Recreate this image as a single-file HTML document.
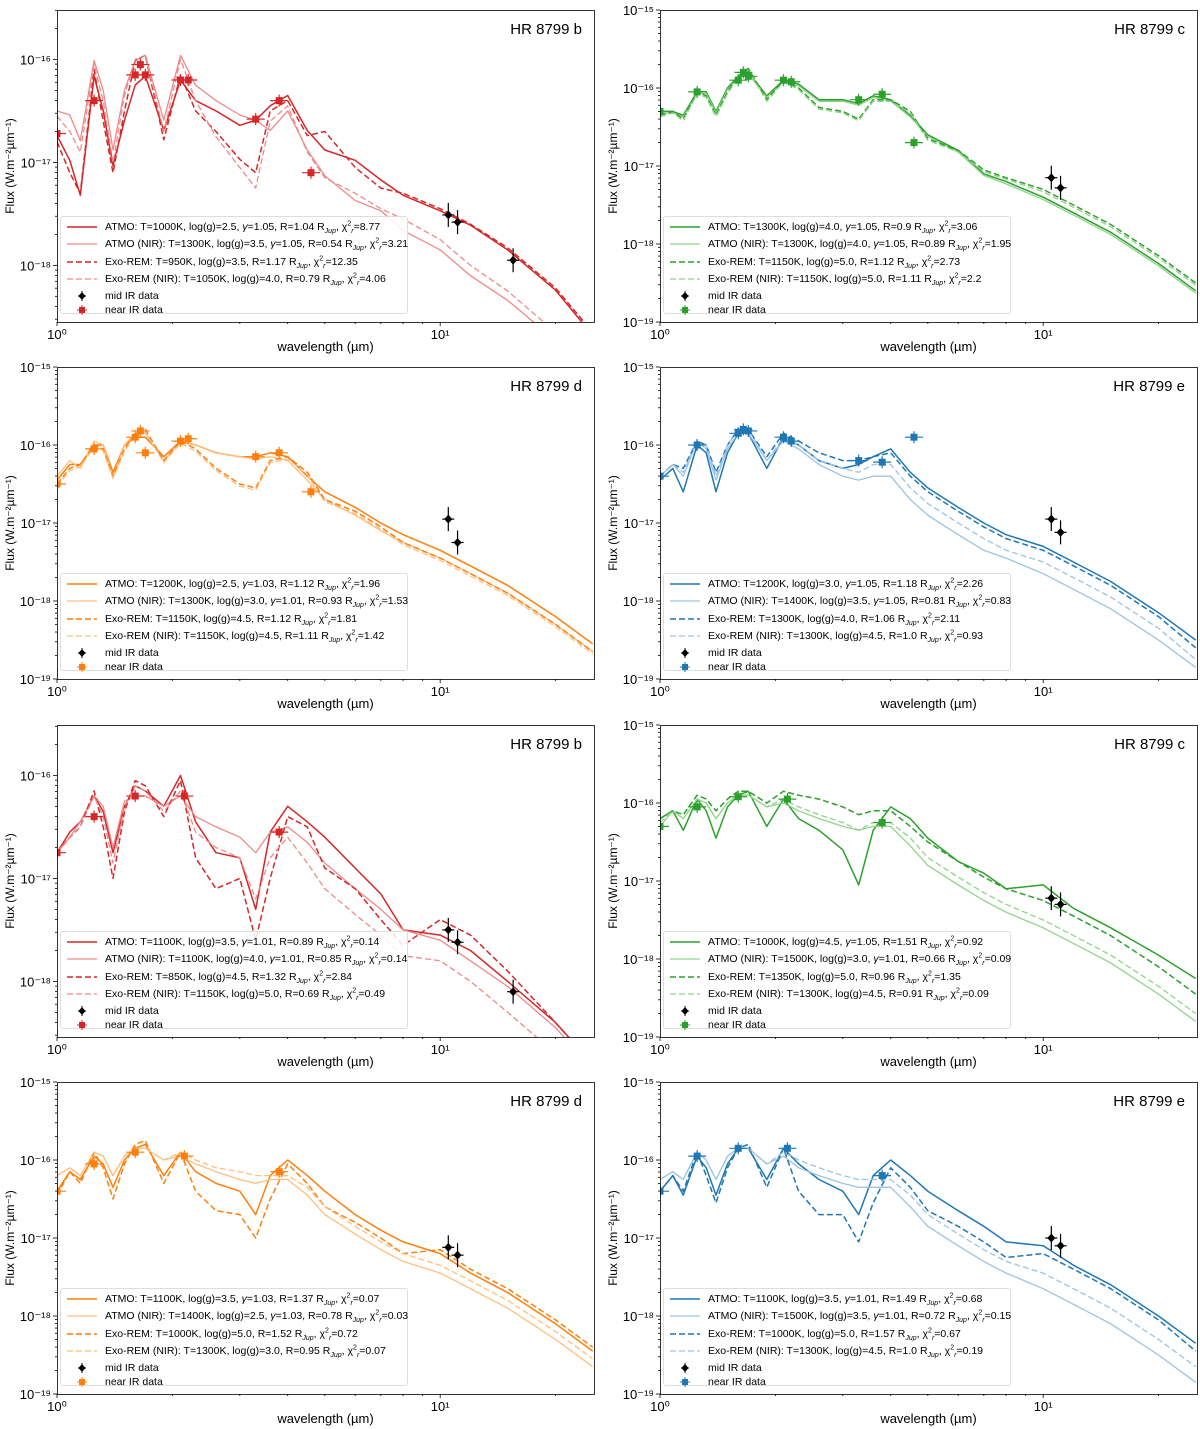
<!DOCTYPE html>
<html><head><meta charset="utf-8">
<style>
body{margin:0;background:#fff;font-family:"Liberation Sans","DejaVu Sans",sans-serif;}
#wrap{position:relative;width:1200px;height:1429px;overflow:hidden;}
svg{position:absolute;left:0;top:0;}
.legend{position:absolute;background:rgba(255,255,255,0.85);border:1px solid #ddd;border-radius:3px;font-size:10.5px;color:#000;width:348px;height:98px;box-sizing:border-box;}
.lrow{position:absolute;left:0;height:14px;line-height:14px;white-space:nowrap;}
.lrow .lbl{position:absolute;left:44px;top:0;}
.lrow svg{position:absolute;left:4px;top:0;}
sub,sup{font-size:7px;line-height:0;}
</style></head>
<body>
<div id="wrap">
<svg id="fig" width="1200" height="1429"></svg>
</div>
<script>
// wavelength grid (micron) shared by model spectra
const W = [1.0,1.08,1.15,1.25,1.32,1.4,1.5,1.6,1.7,1.9,2.1,2.3,2.6,3.0,3.3,3.6,4.0,4.5,5,6,7,8,10,12,15,20,25];
// log10 flux values
const b1_atmo=[-16.74,-16.98,-17.32,-16.16,-16.50,-17.03,-16.59,-16.25,-16.16,-16.69,-16.20,-16.40,-16.50,-16.64,-16.59,-16.45,-16.35,-16.69,-16.88,-16.98,-17.17,-17.32,-17.47,-17.61,-17.85,-18.24,-18.68];
const b1_atmoNir=[-16.50,-16.54,-16.79,-16.01,-16.30,-16.88,-16.30,-16.01,-15.96,-16.59,-15.96,-16.25,-16.40,-16.54,-16.59,-16.69,-16.50,-16.88,-17.13,-17.37,-17.47,-17.66,-17.85,-18.10,-18.34,-18.73,-19.02];
const b1_exo=[-16.80,-17.10,-17.30,-16.10,-16.60,-17.10,-16.50,-16.01,-15.96,-16.78,-16.15,-16.50,-16.70,-16.97,-17.10,-16.50,-16.40,-16.74,-16.70,-17.05,-17.25,-17.30,-17.45,-17.60,-17.83,-18.22,-18.65];
const b1_exoNir=[-16.55,-16.70,-16.90,-16.05,-16.40,-17.00,-16.35,-16.00,-15.96,-16.70,-16.00,-16.40,-16.75,-17.05,-17.25,-16.60,-16.45,-16.90,-17.15,-17.30,-17.45,-17.55,-17.75,-18.00,-18.25,-18.65,-19.00];
const c1_atmo=[-16.30,-16.30,-16.35,-16.05,-16.05,-16.30,-16.00,-15.85,-15.80,-16.10,-15.90,-15.95,-16.15,-16.15,-16.20,-16.10,-16.15,-16.35,-16.60,-16.80,-17.10,-17.20,-17.40,-17.60,-17.85,-18.25,-18.60];
const c1_atmoNir=[-16.32,-16.32,-16.37,-16.07,-16.07,-16.32,-16.02,-15.87,-15.82,-16.12,-15.92,-15.97,-16.17,-16.17,-16.22,-16.12,-16.17,-16.37,-16.62,-16.82,-17.12,-17.23,-17.43,-17.63,-17.88,-18.28,-18.63];
const c1_exo=[-16.35,-16.30,-16.40,-16.05,-16.10,-16.35,-16.05,-15.85,-15.75,-16.15,-15.90,-16.00,-16.25,-16.30,-16.40,-16.15,-16.15,-16.30,-16.65,-16.80,-17.05,-17.15,-17.30,-17.50,-17.75,-18.15,-18.50];
const c1_exoNir=[-16.37,-16.32,-16.42,-16.07,-16.12,-16.37,-16.07,-15.87,-15.77,-16.17,-15.92,-16.02,-16.27,-16.32,-16.42,-16.17,-16.17,-16.32,-16.67,-16.82,-17.07,-17.17,-17.33,-17.53,-17.78,-18.18,-18.53];
const d1_atmo=[-16.45,-16.25,-16.25,-16.00,-16.00,-16.35,-16.00,-15.90,-15.90,-16.15,-15.95,-16.00,-16.10,-16.15,-16.15,-16.10,-16.15,-16.40,-16.60,-16.80,-17.00,-17.15,-17.35,-17.55,-17.80,-18.20,-18.55];
const d1_atmoNir=[-16.40,-16.20,-16.30,-15.95,-16.00,-16.40,-16.00,-15.85,-15.85,-16.20,-15.95,-16.00,-16.10,-16.15,-16.18,-16.15,-16.20,-16.45,-16.70,-16.90,-17.10,-17.25,-17.45,-17.65,-17.90,-18.30,-18.65];
const d1_exo=[-16.50,-16.30,-16.25,-16.00,-16.05,-16.40,-16.05,-15.85,-15.80,-16.20,-15.95,-16.05,-16.30,-16.50,-16.55,-16.20,-16.15,-16.35,-16.70,-16.85,-17.05,-17.25,-17.45,-17.65,-17.90,-18.30,-18.65];
const d1_exoNir=[-16.53,-16.33,-16.28,-16.03,-16.08,-16.43,-16.08,-15.88,-15.83,-16.23,-15.98,-16.08,-16.33,-16.53,-16.58,-16.23,-16.18,-16.38,-16.73,-16.88,-17.08,-17.28,-17.48,-17.68,-17.93,-18.33,-18.68];
const e1_atmo=[-16.45,-16.30,-16.60,-16.00,-16.10,-16.60,-16.10,-15.85,-15.85,-16.30,-15.90,-16.00,-16.20,-16.30,-16.25,-16.15,-16.05,-16.35,-16.55,-16.80,-17.00,-17.15,-17.30,-17.50,-17.75,-18.15,-18.50];
const e1_atmoNir=[-16.40,-16.25,-16.40,-15.95,-16.05,-16.45,-16.05,-15.85,-15.85,-16.20,-15.95,-16.05,-16.25,-16.40,-16.45,-16.40,-16.40,-16.70,-16.90,-17.15,-17.35,-17.45,-17.65,-17.85,-18.10,-18.50,-18.85];
const e1_exo=[-16.40,-16.25,-16.30,-15.95,-16.00,-16.35,-16.00,-15.80,-15.80,-16.15,-15.85,-15.95,-16.10,-16.20,-16.20,-16.15,-16.10,-16.40,-16.60,-16.85,-17.05,-17.20,-17.35,-17.55,-17.80,-18.20,-18.60];
const e1_exoNir=[-16.40,-16.25,-16.35,-15.95,-16.00,-16.40,-16.00,-15.80,-15.80,-16.20,-15.90,-16.00,-16.20,-16.30,-16.35,-16.25,-16.25,-16.55,-16.75,-17.00,-17.20,-17.35,-17.50,-17.70,-17.95,-18.35,-18.75];
const b2_atmo=[-16.75,-16.55,-16.45,-16.20,-16.35,-16.75,-16.30,-16.10,-16.15,-16.30,-16.00,-16.45,-16.75,-16.80,-17.30,-16.55,-16.30,-16.45,-16.60,-16.90,-17.15,-17.50,-17.55,-17.70,-18.00,-18.40,-18.80];
const b2_atmoNir=[-16.75,-16.60,-16.45,-16.20,-16.30,-16.70,-16.25,-16.20,-16.20,-16.30,-16.20,-16.40,-16.50,-16.60,-16.75,-16.55,-16.50,-16.65,-16.85,-17.10,-17.30,-17.50,-17.60,-17.80,-18.05,-18.45,-18.85];
const b2_exo=[-16.75,-16.60,-16.50,-16.15,-16.50,-17.00,-16.35,-16.05,-16.10,-16.40,-16.05,-16.80,-17.10,-17.00,-17.60,-17.00,-16.40,-16.50,-16.90,-17.10,-17.40,-17.65,-17.40,-17.55,-17.90,-18.40,-18.80];
const b2_exoNir=[-16.75,-16.60,-16.50,-16.20,-16.40,-16.85,-16.30,-16.10,-16.15,-16.35,-16.15,-16.55,-16.70,-16.80,-17.20,-16.80,-16.60,-16.85,-17.10,-17.35,-17.55,-17.75,-17.80,-18.00,-18.30,-18.70,-19.10];
const c2_atmo=[-16.20,-16.10,-16.35,-15.95,-16.10,-16.45,-16.05,-15.90,-15.85,-16.30,-15.95,-16.20,-16.35,-16.60,-17.05,-16.35,-16.05,-16.20,-16.45,-16.75,-16.90,-17.10,-17.05,-17.35,-17.60,-17.95,-18.25];
const c2_atmoNir=[-16.30,-16.10,-16.20,-15.95,-16.00,-16.20,-16.00,-15.90,-15.90,-16.05,-16.00,-16.10,-16.20,-16.30,-16.35,-16.30,-16.30,-16.55,-16.80,-17.05,-17.25,-17.40,-17.60,-17.80,-18.05,-18.45,-18.80];
const c2_exo=[-16.20,-16.10,-16.15,-15.90,-15.95,-16.10,-15.95,-15.85,-15.85,-16.00,-15.85,-15.90,-15.95,-16.05,-16.15,-16.10,-16.10,-16.30,-16.50,-16.75,-16.95,-17.10,-17.25,-17.45,-17.70,-18.10,-18.45];
const c2_exoNir=[-16.25,-16.10,-16.20,-15.95,-16.00,-16.20,-16.00,-15.90,-15.90,-16.05,-15.95,-16.05,-16.15,-16.25,-16.35,-16.25,-16.25,-16.45,-16.70,-16.95,-17.15,-17.30,-17.50,-17.70,-17.95,-18.35,-18.70];
const d2_atmo=[-16.40,-16.15,-16.25,-15.95,-16.05,-16.35,-16.00,-15.85,-15.80,-16.20,-15.90,-16.15,-16.30,-16.40,-16.70,-16.20,-16.00,-16.20,-16.40,-16.70,-16.90,-17.05,-17.20,-17.45,-17.70,-18.10,-18.45];
const d2_atmoNir=[-16.20,-16.10,-16.20,-15.90,-15.95,-16.20,-15.95,-15.85,-15.85,-16.00,-15.95,-16.05,-16.15,-16.25,-16.30,-16.25,-16.25,-16.45,-16.70,-16.95,-17.15,-17.30,-17.45,-17.65,-17.90,-18.30,-18.65];
const d2_exo=[-16.45,-16.15,-16.30,-15.90,-16.10,-16.50,-16.05,-15.80,-15.75,-16.30,-15.90,-16.40,-16.65,-16.70,-17.00,-16.50,-16.05,-16.30,-16.60,-16.80,-17.00,-17.20,-17.15,-17.40,-17.65,-18.05,-18.40];
const d2_exoNir=[-16.20,-16.10,-16.20,-15.90,-15.95,-16.20,-15.95,-15.85,-15.85,-16.00,-15.90,-16.00,-16.10,-16.15,-16.20,-16.20,-16.20,-16.35,-16.60,-16.85,-17.05,-17.20,-17.35,-17.55,-17.80,-18.20,-18.55];
const e2_atmo=[-16.40,-16.20,-16.45,-15.95,-16.10,-16.45,-16.05,-15.85,-15.85,-16.25,-15.85,-16.05,-16.25,-16.40,-16.70,-16.20,-16.00,-16.20,-16.40,-16.65,-16.85,-17.05,-17.10,-17.35,-17.60,-18.00,-18.35];
const e2_atmoNir=[-16.25,-16.15,-16.25,-15.90,-16.00,-16.25,-15.95,-15.85,-15.85,-16.05,-15.95,-16.10,-16.20,-16.30,-16.35,-16.35,-16.35,-16.60,-16.85,-17.10,-17.30,-17.45,-17.65,-17.85,-18.10,-18.50,-18.85];
const e2_exo=[-16.40,-16.20,-16.40,-15.90,-16.20,-16.55,-16.10,-15.85,-15.80,-16.35,-15.85,-16.40,-16.70,-16.70,-17.05,-16.55,-16.10,-16.35,-16.65,-16.85,-17.05,-17.25,-17.20,-17.40,-17.65,-18.05,-18.45];
const e2_exoNir=[-16.25,-16.15,-16.25,-15.90,-16.00,-16.25,-15.95,-15.85,-15.85,-16.05,-15.90,-16.00,-16.10,-16.20,-16.25,-16.25,-16.25,-16.45,-16.70,-16.95,-17.15,-17.30,-17.45,-17.65,-17.90,-18.30,-18.65];
// near-IR photometry (wavelength, log flux)
const nirW_full=[1.0,1.25,1.6,1.65,1.7,2.1,2.2,3.3,3.8,4.6];
const b1_nir=[-16.72,-16.40,-16.15,-16.05,-16.15,-16.20,-16.20,-16.58,-16.40,-17.10];
const c1_nir=[-16.3,-16.05,-15.90,-15.80,-15.85,-15.90,-15.92,-16.15,-16.08,-16.7];
const d1_nir=[-16.5,-16.05,-15.90,-15.82,-16.10,-15.95,-15.92,-16.15,-16.10,-16.6];
const e1_nir=[-16.4,-16.0,-15.85,-15.80,-15.82,-15.90,-15.95,-16.2,-16.22,-15.9];
const nirW_few=[1.0,1.25,1.6,2.15,3.8];
const b2_nir=[-16.75,-16.40,-16.20,-16.20,-16.55];
const c2_nir=[-16.3,-16.05,-15.92,-15.95,-16.25];
const d2_nir=[-16.4,-16.05,-15.90,-15.95,-16.15];
const e2_nir=[-16.4,-15.95,-15.85,-15.85,-16.2];
// mid-IR photometry
const midW3=[10.5,11.1,15.5];
const midW2=[10.5,11.1];
const b1_mid=[-17.51,-17.58,-17.95];
const c1_mid=[-17.15,-17.28];
const d1_mid=[-16.95,-17.25];
const e1_mid=[-16.95,-17.12];
const b2_mid=[-17.50,-17.62,-18.10];
const c2_mid=[-17.22,-17.30];
const d2_mid=[-17.12,-17.22];
const e2_mid=[-17.00,-17.10];

const COL={b:['#d62728','#ef8a8a'],c:['#2ca02c','#90d48a'],d:['#ff7f0e','#ffbf80'],e:['#1f77b4','#9cc3e2']};
const R='R<sub><i>Jup</i></sub>', X='χ<sup>2</sup><sub><i>r</i></sub>';
const panels=[
 {id:'b1',t:'b',x:57,y:10,ymax:-15.52,ymin:-18.55,yt:[-16,-17,-18],s:[b1_atmo,b1_atmoNir,b1_exo,b1_exoNir],nw:nirW_full,nir:b1_nir,mw:midW3,mid:b1_mid,
  L:['ATMO: T=1000K, log(g)=2.5, <i>γ</i>=1.05, R=1.04 '+R+', '+X+'=8.77','ATMO (NIR): T=1300K, log(g)=3.5, <i>γ</i>=1.05, R=0.54 '+R+', '+X+'=3.21','Exo-REM: T=950K, log(g)=3.5, R=1.17 '+R+', '+X+'=12.35','Exo-REM (NIR): T=1050K, log(g)=4.0, R=0.79 '+R+', '+X+'=4.06']},
 {id:'c1',t:'c',x:660,y:10,ymax:-15,ymin:-19,yt:[-15,-16,-17,-18,-19],s:[c1_atmo,c1_atmoNir,c1_exo,c1_exoNir],nw:nirW_full,nir:c1_nir,mw:midW2,mid:c1_mid,
  L:['ATMO: T=1300K, log(g)=4.0, <i>γ</i>=1.05, R=0.9 '+R+', '+X+'=3.06','ATMO (NIR): T=1300K, log(g)=4.0, <i>γ</i>=1.05, R=0.89 '+R+', '+X+'=1.95','Exo-REM: T=1150K, log(g)=5.0, R=1.12 '+R+', '+X+'=2.73','Exo-REM (NIR): T=1150K, log(g)=5.0, R=1.11 '+R+', '+X+'=2.2']},
 {id:'d1',t:'d',x:57,y:367,ymax:-15,ymin:-19,yt:[-15,-16,-17,-18,-19],s:[d1_atmo,d1_atmoNir,d1_exo,d1_exoNir],nw:nirW_full,nir:d1_nir,mw:midW2,mid:d1_mid,
  L:['ATMO: T=1200K, log(g)=2.5, <i>γ</i>=1.03, R=1.12 '+R+', '+X+'=1.96','ATMO (NIR): T=1300K, log(g)=3.0, <i>γ</i>=1.01, R=0.93 '+R+', '+X+'=1.53','Exo-REM: T=1150K, log(g)=4.5, R=1.12 '+R+', '+X+'=1.81','Exo-REM (NIR): T=1150K, log(g)=4.5, R=1.11 '+R+', '+X+'=1.42']},
 {id:'e1',t:'e',x:660,y:367,ymax:-15,ymin:-19,yt:[-15,-16,-17,-18,-19],s:[e1_atmo,e1_atmoNir,e1_exo,e1_exoNir],nw:nirW_full,nir:e1_nir,mw:midW2,mid:e1_mid,
  L:['ATMO: T=1200K, log(g)=3.0, <i>γ</i>=1.05, R=1.18 '+R+', '+X+'=2.26','ATMO (NIR): T=1400K, log(g)=3.5, <i>γ</i>=1.05, R=0.81 '+R+', '+X+'=0.83','Exo-REM: T=1300K, log(g)=4.0, R=1.06 '+R+', '+X+'=2.11','Exo-REM (NIR): T=1300K, log(g)=4.5, R=1.0 '+R+', '+X+'=0.93']},
 {id:'b2',t:'b',x:57,y:725,ymax:-15.51,ymin:-18.54,yt:[-16,-17,-18],s:[b2_atmo,b2_atmoNir,b2_exo,b2_exoNir],nw:nirW_few,nir:b2_nir,mw:midW3,mid:b2_mid,
  L:['ATMO: T=1100K, log(g)=3.5, <i>γ</i>=1.01, R=0.89 '+R+', '+X+'=0.14','ATMO (NIR): T=1100K, log(g)=4.0, <i>γ</i>=1.01, R=0.85 '+R+', '+X+'=0.14','Exo-REM: T=850K, log(g)=4.5, R=1.32 '+R+', '+X+'=2.84','Exo-REM (NIR): T=1150K, log(g)=5.0, R=0.69 '+R+', '+X+'=0.49']},
 {id:'c2',t:'c',x:660,y:725,ymax:-15,ymin:-19,yt:[-15,-16,-17,-18,-19],s:[c2_atmo,c2_atmoNir,c2_exo,c2_exoNir],nw:nirW_few,nir:c2_nir,mw:midW2,mid:c2_mid,
  L:['ATMO: T=1000K, log(g)=4.5, <i>γ</i>=1.05, R=1.51 '+R+', '+X+'=0.92','ATMO (NIR): T=1500K, log(g)=3.0, <i>γ</i>=1.01, R=0.66 '+R+', '+X+'=0.09','Exo-REM: T=1350K, log(g)=5.0, R=0.96 '+R+', '+X+'=1.35','Exo-REM (NIR): T=1300K, log(g)=4.5, R=0.91 '+R+', '+X+'=0.09']},
 {id:'d2',t:'d',x:57,y:1082,ymax:-15,ymin:-19,yt:[-15,-16,-17,-18,-19],s:[d2_atmo,d2_atmoNir,d2_exo,d2_exoNir],nw:nirW_few,nir:d2_nir,mw:midW2,mid:d2_mid,
  L:['ATMO: T=1100K, log(g)=3.5, <i>γ</i>=1.03, R=1.37 '+R+', '+X+'=0.07','ATMO (NIR): T=1400K, log(g)=2.5, <i>γ</i>=1.03, R=0.78 '+R+', '+X+'=0.03','Exo-REM: T=1000K, log(g)=5.0, R=1.52 '+R+', '+X+'=0.72','Exo-REM (NIR): T=1300K, log(g)=3.0, R=0.95 '+R+', '+X+'=0.07']},
 {id:'e2',t:'e',x:660,y:1082,ymax:-15,ymin:-19,yt:[-15,-16,-17,-18,-19],s:[e2_atmo,e2_atmoNir,e2_exo,e2_exoNir],nw:nirW_few,nir:e2_nir,mw:midW2,mid:e2_mid,
  L:['ATMO: T=1100K, log(g)=3.5, <i>γ</i>=1.01, R=1.49 '+R+', '+X+'=0.68','ATMO (NIR): T=1500K, log(g)=3.5, <i>γ</i>=1.01, R=0.72 '+R+', '+X+'=0.15','Exo-REM: T=1000K, log(g)=5.0, R=1.57 '+R+', '+X+'=0.67','Exo-REM (NIR): T=1300K, log(g)=4.5, R=1.0 '+R+', '+X+'=0.19']}
];
const PW=537, PH=312, XMAX=Math.log10(25.2);
const NS='http://www.w3.org/2000/svg';
const svg=document.getElementById('fig');
const wrap=document.getElementById('wrap');
function mk(tag,attrs,parent){const e=document.createElementNS(NS,tag);for(const k in attrs)e.setAttribute(k,attrs[k]);(parent||svg).appendChild(e);return e;}
const sup={'-':'⁻','1':'¹','5':'⁵','6':'⁶','7':'⁷','8':'⁸','9':'⁹','0':'⁰'};
function supStr(s){return String(s).split('').map(c=>sup[c]||c).join('');}

panels.forEach(p=>{
  const g=mk('g',{});
  
  
  const xs=w=>p.x+Math.log10(w)/XMAX*PW;
  const ys=v=>p.y+(p.ymax-v)/(p.ymax-p.ymin)*PH;
  const cid='clip-'+p.id;
  const cp=mk('clipPath',{id:cid},g); mk('rect',{x:p.x,y:p.y,width:PW,height:PH},cp);
  const dg=mk('g',{'clip-path':'url(#'+cid+')'},g);
  const c=COL[p.t];
  const styles=[[c[0],1.5,''],[c[1],1.3,''],[c[0],1.5,'6,3'],[c[1],1.3,'6,3']];
  const names=['atmo-line','atmo-nir-line','exorem-line','exorem-nir-line'];
  p.s.forEach((arr,i)=>{
    const d=arr.map((v,j)=>(j?'L':'M')+xs(W[j]).toFixed(1)+','+ys(v).toFixed(1)).join('');
    const path=mk('path',{d:d,fill:'none',stroke:styles[i][0],'stroke-width':styles[i][1],'stroke-dasharray':styles[i][2],'stroke-linejoin':'round'},dg);
    
    
  });
  p.nw.forEach((w,i)=>{
    const cx=xs(w), cy=ys(p.nir[i]);
    const pg=mk('g',{},dg);
    
    
    mk('line',{x1:cx-9,x2:cx+9,y1:cy,y2:cy,stroke:c[0],'stroke-width':1.2},pg);
    mk('line',{x1:cx,x2:cx,y1:cy-6,y2:cy+6,stroke:c[0],'stroke-width':1.2},pg);
    mk('rect',{x:cx-3.5,y:cy-3.5,width:7,height:7,fill:c[0]},pg);
  });
  p.mw.forEach((w,i)=>{
    const cx=xs(w), cy=ys(p.mid[i]);
    const pg=mk('g',{},dg);
    
    
    mk('line',{x1:cx-6,x2:cx+6,y1:cy,y2:cy,stroke:'#000','stroke-width':1.2},pg);
    mk('line',{x1:cx,x2:cx,y1:cy-12,y2:cy+12,stroke:'#000','stroke-width':1.2},pg);
    mk('path',{d:`M${cx},${cy-4.5}L${cx+4},${cy}L${cx},${cy+4.5}L${cx-4},${cy}Z`,fill:'#000'},pg);
  });
  // frame
  const fr=mk('rect',{x:p.x+0.5,y:p.y+0.5,width:PW,height:PH,fill:'none',stroke:'#000','stroke-width':0.8},g);
   
  // x ticks
  for(let dec=0;dec<=1;dec++){for(let m=1;m<=9;m++){const w=m*Math.pow(10,dec);if(w>25.2)break;const X0=xs(w);
    mk('line',{x1:X0,x2:X0,y1:p.y+PH,y2:p.y+PH+(m==1?4:2),stroke:'#000','stroke-width':0.8},g);}}
  [[1,'10⁰'],[10,'10¹']].forEach(t=>{const tx=mk('text',{x:xs(t[0]),y:p.y+PH+17,'font-size':13,'text-anchor':'middle'},g);tx.textContent=t[1];
     });
  // y ticks
  for(let e=Math.ceil(p.ymin)-1;e<=Math.floor(p.ymax);e++){for(let m=1;m<=9;m++){const v=e+Math.log10(m);if(v<p.ymin-1e-6||v>p.ymax+1e-6)continue;const Y0=ys(v);
    mk('line',{x1:p.x-(m==1?4:2),x2:p.x,y1:Y0,y2:Y0,stroke:'#000','stroke-width':0.8},g);}}
  p.yt.forEach(v=>{const tx=mk('text',{x:p.x-6,y:ys(v)+5,'font-size':13,'text-anchor':'end'},g);tx.textContent='10'+supStr(v);
     });
  const xl=mk('text',{x:p.x+PW/2,y:p.y+PH+29,'font-size':13,'text-anchor':'middle'},g);xl.textContent='wavelength (µm)';
   
  const yl=mk('text',{x:0,y:0,'font-size':12,'text-anchor':'middle',transform:`translate(${p.x-43},${p.y+PH/2}) rotate(-90)`},g);yl.textContent='Flux (W.m⁻²µm⁻¹)';
   
  const tt=mk('text',{x:p.x+PW-12,y:p.y+24,'font-size':15,'text-anchor':'end'},g);tt.textContent='HR 8799 '+p.t;
   
  // legend
  const lg=document.createElement('div');
  lg.className='legend';
  
  
  lg.style.left=(p.x+3)+'px'; lg.style.top=(p.y+PH-106)+'px';
  const rows=[];
  for(let i=0;i<4;i++){rows.push([p.L[i],`<svg width="34" height="14"><line x1="2" x2="32" y1="7" y2="7" stroke="${styles[i][0]}" stroke-width="${styles[i][1]}" stroke-dasharray="${styles[i][2]}"/></svg>`]);}
  rows.push(['mid IR data','<svg width="34" height="14"><line x1="13" x2="21" y1="7" y2="7" stroke="#000"/><line x1="17" x2="17" y1="2" y2="12" stroke="#000"/><path d="M17,3L20.5,7L17,11L13.5,7Z" fill="#000"/></svg>']);
  rows.push(['near IR data',`<svg width="34" height="14"><line x1="12" x2="22" y1="7" y2="7" stroke="${c[0]}"/><line x1="17" x2="17" y1="2" y2="12" stroke="${c[0]}"/><rect x="14" y="4" width="6" height="6" fill="${c[0]}"/></svg>`]);
  const tops=[3,20,38,55,72,86];
  rows.forEach((r,i)=>{const d=document.createElement('div');d.className='lrow';d.style.top=tops[i]+'px';
    
    
    d.innerHTML=r[1]+'<span class="lbl">'+r[0]+'</span>';lg.appendChild(d);});
  wrap.appendChild(lg);
});
</script>
</body></html>
